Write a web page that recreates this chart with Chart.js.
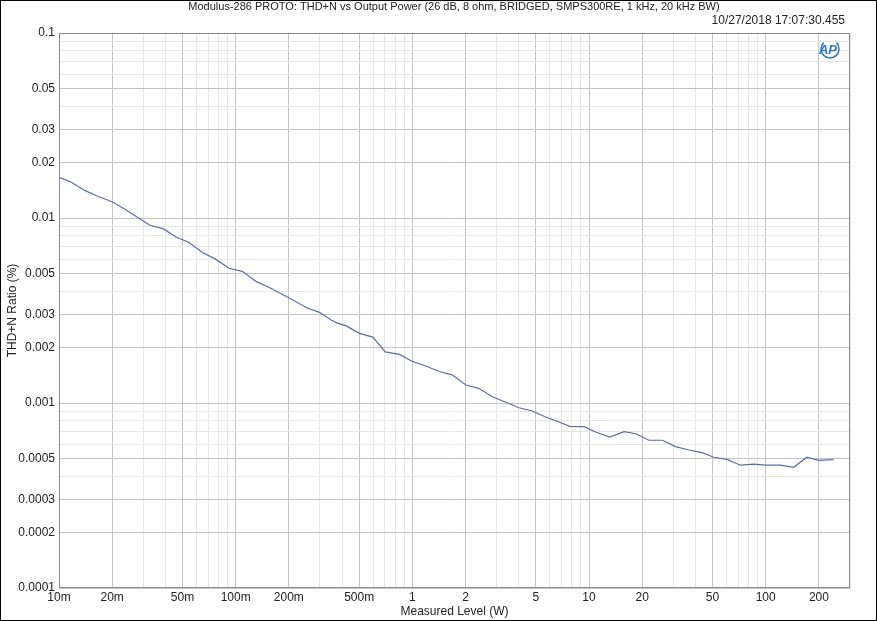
<!DOCTYPE html>
<html>
<head>
<meta charset="utf-8">
<script src="https://cdn.jsdelivr.net/npm/chart.js@4"></script>
<style>
  html, body { margin: 0; padding: 0; background: #fff; }
  #wrap { width: 877px; height: 621px; position: relative; }
</style>
</head>
<body>
<div id="wrap"><canvas id="thdChart"></canvas></div>
<script>
const powerW = [0.0100, 0.0116, 0.0140, 0.0163, 0.0201, 0.0241, 0.0327, 0.0388, 0.0462, 0.0538,
  0.0653, 0.0761, 0.0917, 0.109, 0.131, 0.152, 0.202, 0.256, 0.298, 0.347,
  0.371, 0.422, 0.502, 0.597, 0.703, 0.845, 0.996, 1.20, 1.42, 1.68,
  2.01, 2.37, 2.84, 3.38, 4.02, 4.78, 5.64, 6.71, 7.78, 9.37,
  10.9, 13.1, 15.8, 18.4, 21.8, 26.0, 30.9, 36.7, 43.7, 50.8,
  60.4, 71.9, 85.5, 99.6, 121, 144, 171, 199, 242];
const thdPct = [0.0166, 0.0157, 0.0141, 0.0132, 0.0122, 0.0110, 0.00913, 0.00876, 0.00787, 0.00742,
  0.00649, 0.00603, 0.00535, 0.00515, 0.00453, 0.00425, 0.00368, 0.00325, 0.00309, 0.00281,
  0.00272, 0.00261, 0.00238, 0.00227, 0.00189, 0.00183, 0.00168, 0.00158, 0.00148, 0.00142,
  0.00125, 0.00120, 0.00108, 0.00101, 0.000943, 0.000905, 0.000843, 0.000792, 0.000748, 0.000745,
  0.000697, 0.000655, 0.000700, 0.000682, 0.000629, 0.000629, 0.000581, 0.000557, 0.000539, 0.000509,
  0.000496, 0.000461, 0.000467, 0.000461, 0.000461, 0.000449, 0.000509, 0.000490, 0.000494];

const xLabelled = [0.01, 0.02, 0.05, 0.1, 0.2, 0.5, 1, 2, 5, 10, 20, 50, 100, 200];
const xLabelText = ['10m', '20m', '50m', '100m', '200m', '500m', '1', '2', '5', '10', '20', '50', '100', '200'];
const yLabelled = [0.1, 0.05, 0.03, 0.02, 0.01, 0.005, 0.003, 0.002, 0.001, 0.0005, 0.0003, 0.0002, 0.0001];
const yLabelText = ['0.1', '0.05', '0.03', '0.02', '0.01', '0.005', '0.003', '0.002', '0.001', '0.0005', '0.0003', '0.0002', '0.0001'];

const chartTitle = 'Modulus-286 PROTO: THD+N vs Output Power (26 dB, 8 ohm, BRIDGED, SMPS300RE, 1 kHz, 20 kHz BW)';
const stamp = '10/27/2018 17:07:30.455';

const FONT = "'Liberation Sans', Arial, sans-serif";

// every 1..9 x 10^n between lo and hi
function decadeTicks(lo, hi) {
    let out = [];
    for (let e = -5; e <= 3; e++) {
        for (let m = 1; m <= 9; m++) {
            let v = parseFloat((m * Math.pow(10, e)).toPrecision(3));
            if (v >= lo * 0.999 && v <= hi * 1.001) out.push(v);
        }
    }
    return out;
}
function isIn(list, v) {
    return list.some(t => Math.abs(t - v) / t < 1e-6);
}
function labelFor(list, texts, v) {
    for (let i = 0; i < list.length; i++) {
        if (Math.abs(list[i] - v) / list[i] < 1e-6) return texts[i];
    }
    return '';
}

const decorations = {
    id: 'decorations',
    afterDraw(chart) {
        const ctx = chart.ctx;
        const a = chart.chartArea;
        ctx.save();
        // plot frame
        ctx.strokeStyle = '#8a8a8a';
        ctx.lineWidth = 1;
        ctx.strokeRect(Math.round(a.left) + 0.5, Math.round(a.top) + 0.5,
            Math.round(a.right - a.left) - 1, Math.round(a.bottom - a.top) - 1);
        // outer frame
        ctx.strokeStyle = '#000';
        ctx.strokeRect(0.5, 0.5, chart.width - 1, chart.height - 1);
        // title + time stamp
        ctx.fillStyle = '#222';
        ctx.font = '11px ' + FONT;
        ctx.textAlign = 'center';
        ctx.textBaseline = 'middle';
        ctx.fillText(chartTitle, 454, 7);
        ctx.font = '12px ' + FONT;
        ctx.textAlign = 'right';
        ctx.fillText(stamp, 845, 21);
        // AP logo
        ctx.strokeStyle = '#2f78c4';
        ctx.fillStyle = '#2f78c4';
        ctx.lineWidth = 1.5;
        ctx.beginPath();
        ctx.arc(830, 49, 9, -0.25 * Math.PI, 1.25 * Math.PI);
        ctx.stroke();
        ctx.font = 'italic bold 13px ' + FONT;
        ctx.textAlign = 'center';
        ctx.fillText('AP', 828, 50);
        ctx.restore();
    }
};

new Chart(document.getElementById('thdChart'), {
    type: 'line',
    data: {
        labels: powerW,
        datasets: [{
            label: 'THD+N',
            data: powerW.map((x, i) => ({x: x, y: thdPct[i]})),
            borderColor: '#5a6ea6',
            borderWidth: 1.2,
            pointRadius: 0,
            fill: false,
            tension: 0
        }]
    },
    options: {
        responsive: true,
        maintainAspectRatio: false,
        animation: false,
        layout: { padding: { top: 33, right: 27, left: 0, bottom: 0 } },
        plugins: {
            legend: { display: false },
            tooltip: { enabled: false },
            title: { display: false }
        },
        scales: {
            x: {
                type: 'logarithmic',
                min: 0.01,
                max: 300,
                afterBuildTicks: s => { s.ticks = decadeTicks(0.01, 300).map(v => ({value: v})); },
                afterFit: s => { s.height = 33; },
                border: { display: false },
                grid: {
                    color: c => isIn(xLabelled, c.tick.value) ? '#c4c4c4' : '#e6e6e6',
                    drawTicks: false
                },
                ticks: {
                    autoSkip: false,
                    maxRotation: 0,
                    padding: 2,
                    color: '#222',
                    font: { family: FONT, size: 12 },
                    callback: v => labelFor(xLabelled, xLabelText, v)
                },
                title: {
                    display: true,
                    text: 'Measured Level (W)',
                    color: '#222',
                    font: { family: FONT, size: 12 },
                    padding: { top: 0, bottom: 2 }
                }
            },
            y: {
                type: 'logarithmic',
                min: 0.0001,
                max: 0.1,
                afterBuildTicks: s => { s.ticks = decadeTicks(0.0001, 0.1).map(v => ({value: v})); },
                afterFit: s => { s.width = 59; },
                border: { display: false },
                grid: {
                    color: c => isIn(yLabelled, c.tick.value) ? '#c4c4c4' : '#e6e6e6',
                    drawTicks: false
                },
                ticks: {
                    autoSkip: false,
                    padding: 4,
                    color: '#222',
                    font: { family: FONT, size: 12 },
                    callback: v => labelFor(yLabelled, yLabelText, v)
                },
                title: {
                    display: true,
                    text: 'THD+N Ratio (%)',
                    color: '#222',
                    font: { family: FONT, size: 12 },
                    padding: { top: 5, bottom: 0 }
                }
            }
        }
    },
    plugins: [decorations]
});
</script>
</body>
</html>
